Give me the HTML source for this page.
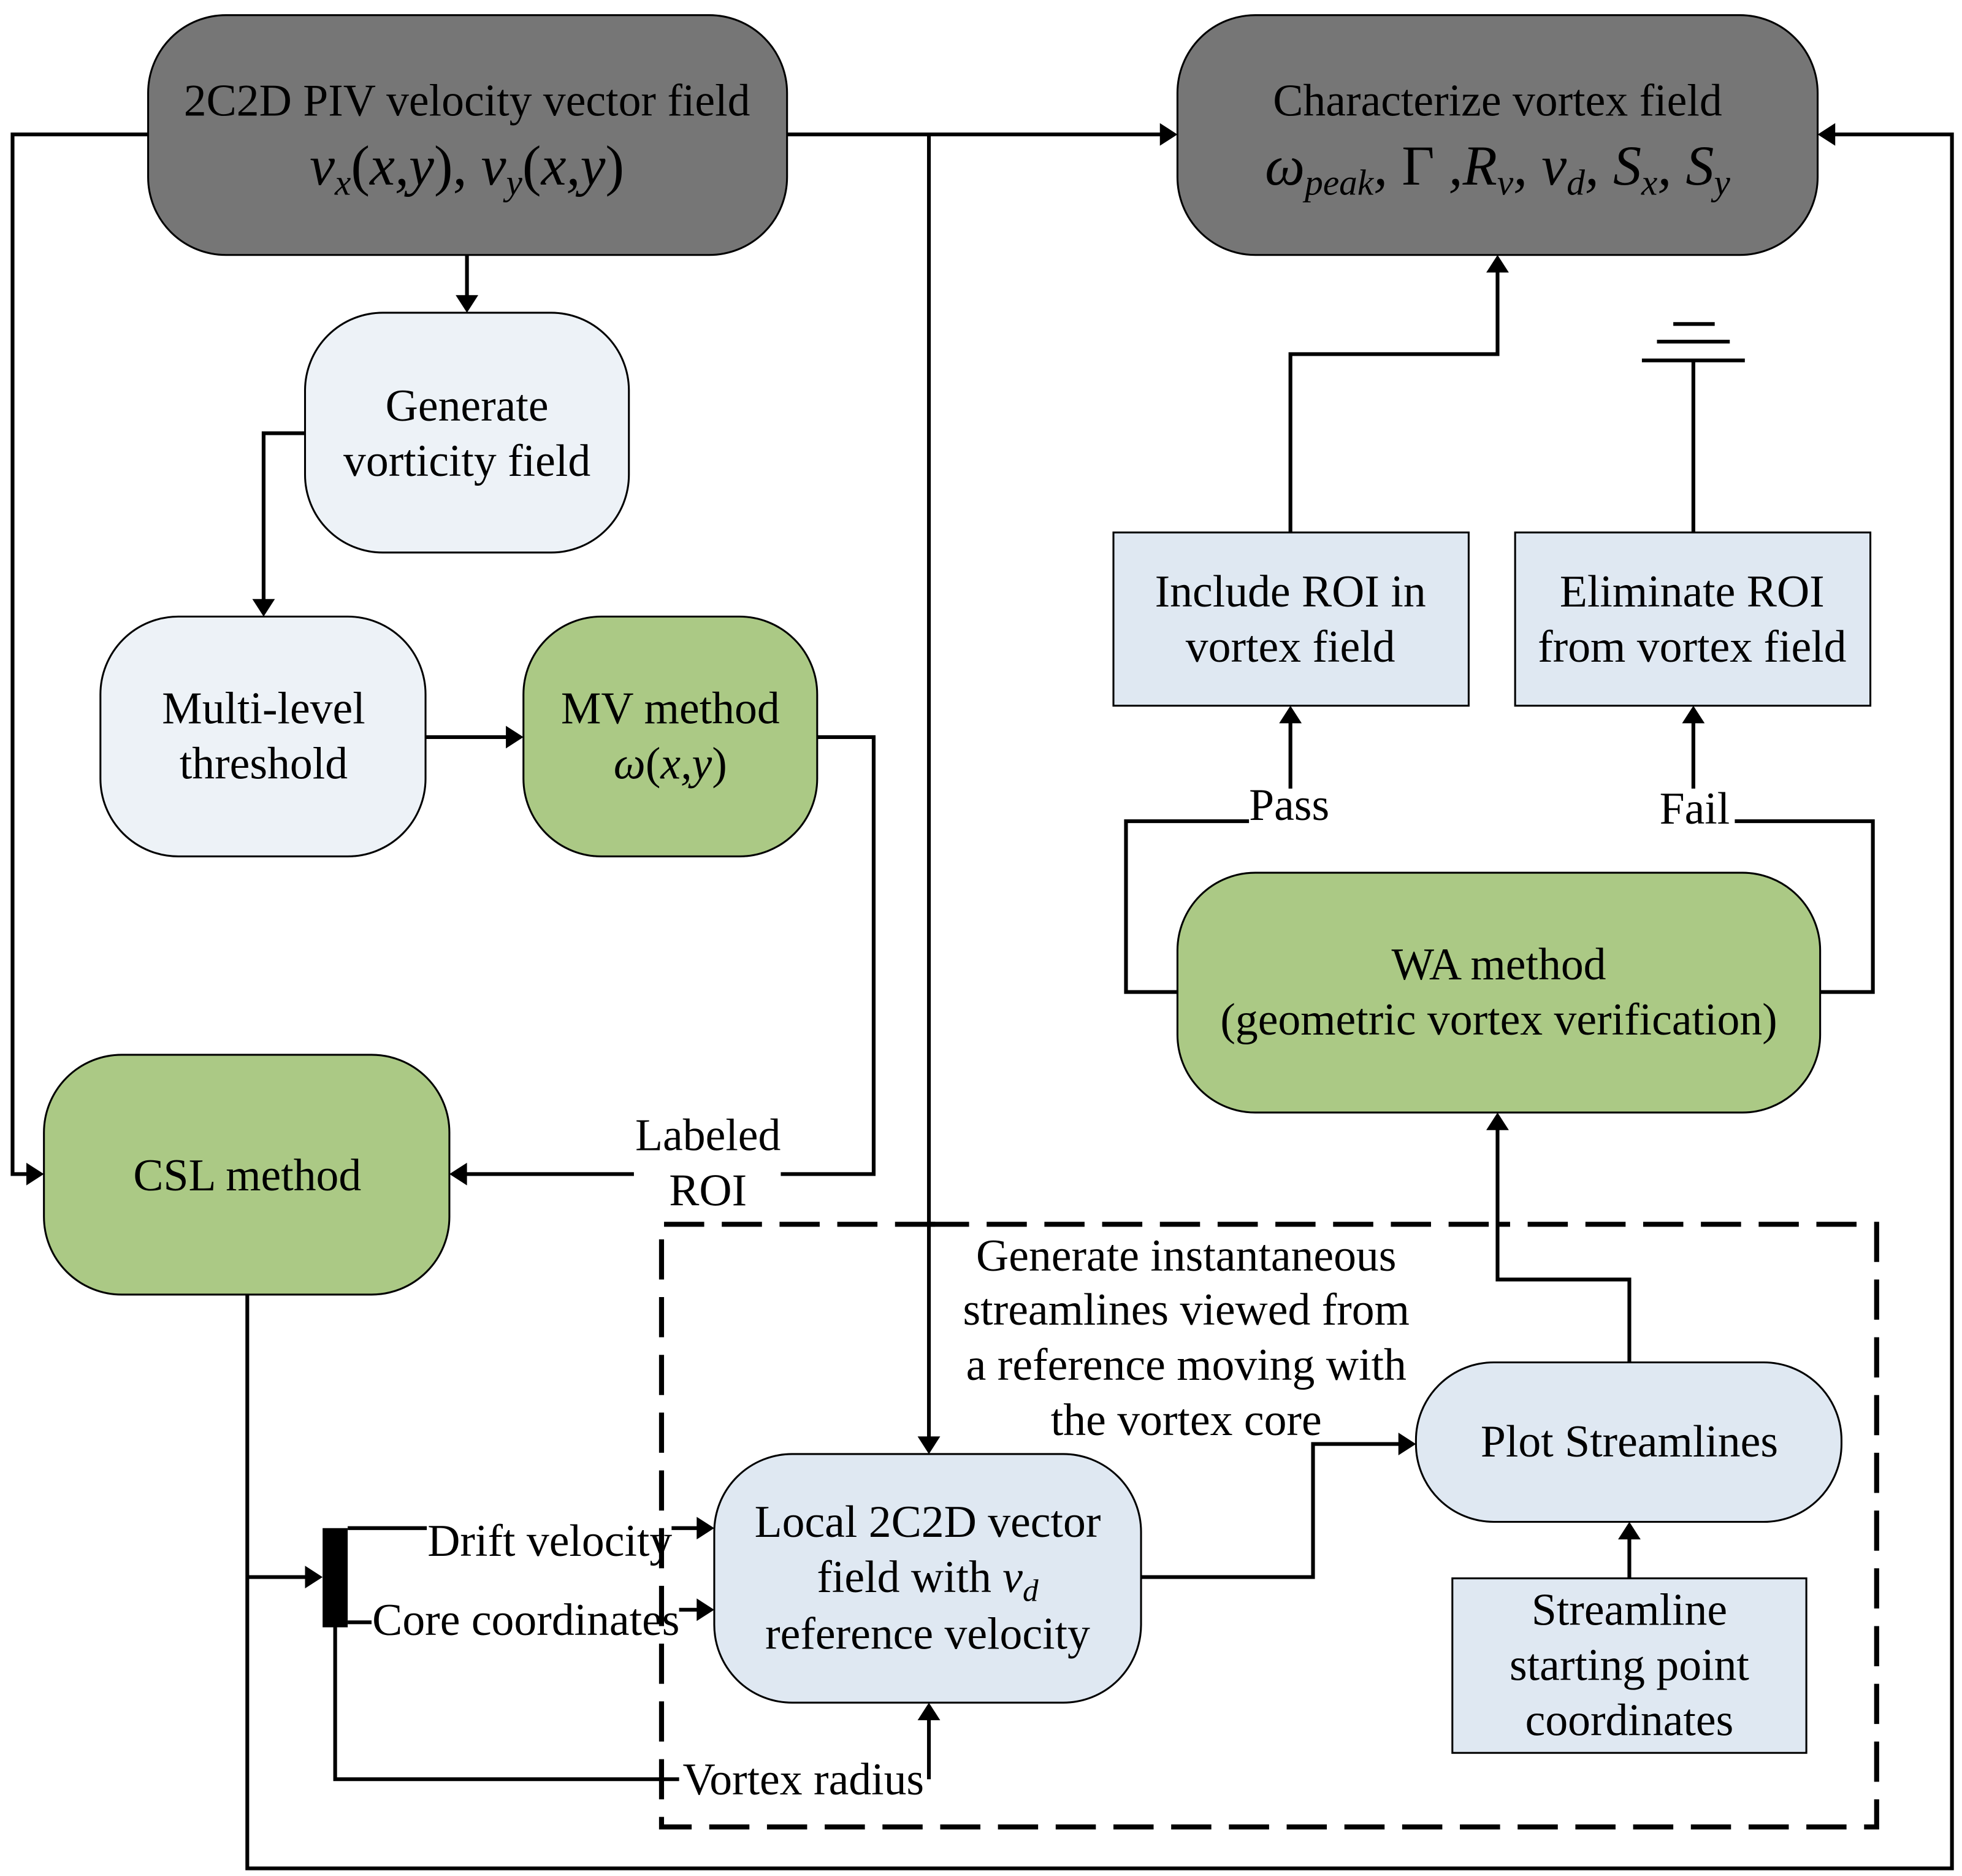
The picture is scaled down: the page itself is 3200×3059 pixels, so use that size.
<!DOCTYPE html>
<html><head><meta charset="utf-8"><style>
html,body{margin:0;padding:0;background:#fff;}
svg{display:block;}
text{font-family:"Liberation Serif",serif;fill:#000;}
</style></head><body>
<svg width="3200" height="3059" viewBox="0 0 1563 1494" xmlns="http://www.w3.org/2000/svg">
<g fill="none" stroke="#000" stroke-width="3">
<polyline points="118,107 10,107 10,935 24,935"/>
<polyline points="627,107 926,107"/>
<polyline points="740,107 740,1146"/>
<polyline points="1460,107 1555,107 1555,1488 197,1488 197,1031"/>
<polyline points="372,203 372,237"/>
<polyline points="243,345 210,345 210,479"/>
<polyline points="339,587 405,587"/>
<polyline points="651,587 696,587 696,935 622,935"/>
<polyline points="505,935 370,935"/>
<polyline points="197,1256 245,1256"/>
<polyline points="277,1217 340,1217"/>
<polyline points="535,1217 557,1217"/>
<polyline points="277,1292 296,1292"/>
<polyline points="541,1282 557,1282"/>
<polyline points="267,1296 267,1417 541,1417"/>
<polyline points="740,1417 740,1368"/>
<polyline points="909,1256 1046,1256 1046,1150 1116,1150"/>
<polyline points="1298,1085 1298,1019 1193,1019 1193,898"/>
<polyline points="1298,1257 1298,1224"/>
<polyline points="938,790 897,790 897,654 995,654"/>
<polyline points="1028,628 1028,574"/>
<polyline points="1450,790 1492,790 1492,654 1382,654"/>
<polyline points="1349,628 1349,574"/>
<polyline points="1028,424 1028,282 1193,282 1193,215"/>
<polyline points="1349,424 1349,287"/>
<line x1="1308" y1="287" x2="1390" y2="287"/>
<line x1="1320" y1="272" x2="1378" y2="272"/>
<line x1="1333" y1="258" x2="1366" y2="258"/>
</g>
<g fill="#000">
<polygon points="35,935 21,926 21,944"/>
<polygon points="938,107 924,98 924,116"/>
<polygon points="740,1158 731,1144 749,1144"/>
<polygon points="1448,107 1462,98 1462,116"/>
<polygon points="372,249 363,235 381,235"/>
<polygon points="210,491 201,477 219,477"/>
<polygon points="417,587 403,578 403,596"/>
<polygon points="358,935 372,926 372,944"/>
<polygon points="257,1256 243,1247 243,1265"/>
<polygon points="569,1217 555,1208 555,1226"/>
<polygon points="569,1282 555,1273 555,1291"/>
<polygon points="740,1356 731,1370 749,1370"/>
<polygon points="1128,1150 1114,1141 1114,1159"/>
<polygon points="1193,886 1184,900 1202,900"/>
<polygon points="1298,1212 1289,1226 1307,1226"/>
<polygon points="1028,562 1019,576 1037,576"/>
<polygon points="1349,562 1340,576 1358,576"/>
<polygon points="1193,203 1184,217 1202,217"/>
<rect x="257" y="1217" width="20" height="79"/>
</g>
<polyline points="745,975 527,975 527,1455 1495,1455 1495,975 1193,975" fill="none" stroke="#000" stroke-width="4" stroke-dasharray="32,14"/>
<polyline points="740,975 1190,975" fill="none" stroke="#000" stroke-width="4" stroke-dasharray="32,14"/>
<g stroke="#000" stroke-width="1.5">
<rect x="118" y="12" width="509" height="191" rx="62" fill="#767676"/>
<rect x="938" y="12" width="510" height="191" rx="62" fill="#767676"/>
<rect x="243" y="249" width="258" height="191" rx="62" fill="#edf2f7"/>
<rect x="80" y="491" width="259" height="191" rx="62" fill="#edf2f7"/>
<rect x="417" y="491" width="234" height="191" rx="62" fill="#abc985"/>
<rect x="35" y="840" width="323" height="191" rx="62" fill="#abc985"/>
<rect x="887" y="424" width="283" height="138" fill="#dfe8f2"/>
<rect x="1207" y="424" width="283" height="138" fill="#dfe8f2"/>
<rect x="938" y="695" width="512" height="191" rx="62" fill="#abc985"/>
<rect x="1128" y="1085" width="339" height="127" rx="62" fill="#dfe8f2"/>
<rect x="1157" y="1257" width="282" height="139" fill="#dfe8f2"/>
<rect x="569" y="1158" width="340" height="198" rx="62" fill="#dfe8f2"/>
</g>
<g font-size="36" text-anchor="middle">
<text x="372" y="92">2C2D PIV velocity vector field</text>
<text x="372" y="147" font-size="45" font-style="italic">v<tspan font-size="29" dy="8">x</tspan><tspan dy="-8" font-style="normal">(</tspan>x,y<tspan font-style="normal">),</tspan> v<tspan font-size="29" dy="8">y</tspan><tspan dy="-8" font-style="normal">(</tspan>x,y<tspan font-style="normal">)</tspan></text>
<text x="1193" y="92">Characterize vortex field</text>
<text x="1193" y="147" font-size="45" font-style="italic">ω<tspan font-size="29" dy="8">peak</tspan><tspan dy="-8">, </tspan><tspan font-style="normal">Γ</tspan> ,R<tspan font-size="29" dy="8">v</tspan><tspan dy="-8">, v</tspan><tspan font-size="29" dy="8">d</tspan><tspan dy="-8">, S</tspan><tspan font-size="29" dy="8">x</tspan><tspan dy="-8">, S</tspan><tspan font-size="29" dy="8">y</tspan></text>
<text x="372" y="335">Generate</text>
<text x="372" y="379">vorticity field</text>
<text x="210" y="576">Multi-level</text>
<text x="210" y="620">threshold</text>
<text x="534" y="576">MV method</text>
<text x="534" y="620" font-style="italic">ω<tspan font-style="normal">(</tspan>x,y<tspan font-style="normal">)</tspan></text>
<text x="197" y="948">CSL method</text>
<text x="564" y="916">Labeled</text>
<text x="564" y="960">ROI</text>
<text x="1028" y="483">Include ROI in</text>
<text x="1028" y="527">vortex field</text>
<text x="1348" y="483">Eliminate ROI</text>
<text x="1348" y="527">from vortex field</text>
<text x="1027" y="653">Pass</text>
<text x="1350" y="656">Fail</text>
<text x="1194" y="780">WA method</text>
<text x="1194" y="824">(geometric vortex verification)</text>
<text x="945" y="1012">Generate instantaneous</text>
<text x="945" y="1055">streamlines viewed from</text>
<text x="945" y="1099">a reference moving with</text>
<text x="945" y="1143">the vortex core</text>
<text x="1298" y="1160">Plot Streamlines</text>
<text x="1298" y="1294">Streamline</text>
<text x="1298" y="1338">starting point</text>
<text x="1298" y="1382">coordinates</text>
<text x="739" y="1224">Local 2C2D vector</text>
<text x="739" y="1268">field with <tspan font-style="italic">v</tspan><tspan font-size="25" dy="7" font-style="italic">d</tspan></text>
<text x="739" y="1313">reference velocity</text>
<text x="438" y="1239">Drift velocity</text>
<text x="419" y="1302">Core coordinates</text>
<text x="640" y="1429">Vortex radius</text>
</g>
</svg>
</body></html>
